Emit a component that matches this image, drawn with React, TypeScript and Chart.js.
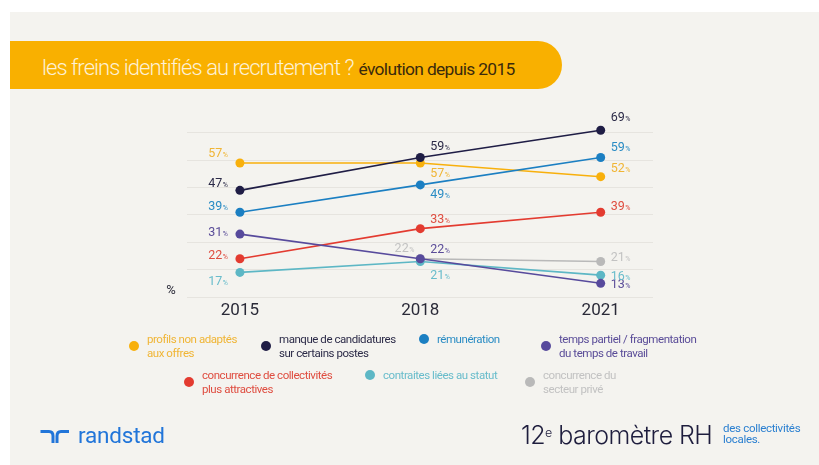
import React, { useEffect, useRef } from "react";
import { Chart, registerables } from "chart.js";

Chart.register(...registerables);

// ---- data ----
const years = [2015, 2018, 2021];
const profilsNonAdaptes = [57, 57, 52];
const manqueCandidatures = [47, 59, 69];
const remuneration = [39, 49, 59];
const tempsPartiel = [31, 22, 13];
const concurrenceCollectivites = [22, 33, 39];
const contraintesStatut = [17, 21, 16];
const concurrencePrive: (number | null)[] = [null, 22, 21];
const gridValues = [8, 18, 28, 38, 48, 58, 68];

const titleMain = "les freins identifiés au recrutement ?";
const titleSub = "évolution depuis 2015";

type Series = {
  key: string;
  legend: string[];
  values: (number | null)[];
  line: string;
  label: string;
  // per point: [dx, dy, align]
  offsets: [number, number, "left" | "right"][];
};

const series: Series[] = [
  { key: "temps", legend: ["temps partiel / fragmentation", "du temps de travail"], values: tempsPartiel, line: "#574a9c", label: "#5a4c98", offsets: [[-12, -3, "right"], [10, -10, "left"], [10, 0, "left"]] },
  { key: "manque", legend: ["manque de candidatures", "sur certains postes"], values: manqueCandidatures, line: "#1f1d45", label: "#2c2b48", offsets: [[-12, -8, "right"], [10, -12, "left"], [10, -14, "left"]] },
  { key: "remu", legend: ["rémunération"], values: remuneration, line: "#1b7fc2", label: "#2a8cc4", offsets: [[-12, -7, "right"], [10, 9, "left"], [10, -11, "left"]] },
  { key: "profils", legend: ["profils non adaptés", "aux offres"], values: profilsNonAdaptes, line: "#f8b00c", label: "#f0b535", offsets: [[-12, -11, "right"], [10, 9, "left"], [10, -9, "left"]] },
  { key: "concColl", legend: ["concurrence de collectivités", "plus attractives"], values: concurrenceCollectivites, line: "#e33b30", label: "#df4d40", offsets: [[-12, -4, "right"], [10, -10, "left"], [10, -7, "left"]] },
  { key: "contraintes", legend: ["contraites liées au statut"], values: contraintesStatut, line: "#5db7c5", label: "#68bccb", offsets: [[-12, 8, "right"], [10, 13, "left"], [10, 0, "left"]] },
  { key: "prive", legend: ["concurrence du", "secteur privé"], values: concurrencePrive, line: "#b9b9b9", label: "#c2c2c2", offsets: [[-12, 0, "right"], [-6, -11, "right"], [10, -5, "left"]] },
];

const legendLayout: { key: string; x: number; y: number }[] = [
  { key: "profils", x: 129, y: 332 },
  { key: "manque", x: 261, y: 332 },
  { key: "remu", x: 419, y: 332 },
  { key: "temps", x: 541, y: 332 },
  { key: "concColl", x: 184, y: 368 },
  { key: "contraintes", x: 365, y: 368 },
  { key: "prive", x: 525, y: 368 },
];

const FONT = "Roboto, 'Noto Sans', sans-serif";

const labelPlugin = {
  id: "valueLabels",
  afterDatasetsDraw(chart: any) {
    const ctx = chart.ctx;
    const xs = chart.scales.x;
    ctx.save();
    series.forEach((s, di) => {
      const meta = chart.getDatasetMeta(di);
      s.values.forEach((v, i) => {
        if (v === null) return;
        const pt = meta.data[i];
        if (!pt) return;
        const [dx, dy, align] = s.offsets[i];
        const num = String(v);
        ctx.font = `400 12.5px ${FONT}`;
        const wNum = ctx.measureText(num).width;
        ctx.font = `400 7px ${FONT}`;
        const wPct = ctx.measureText("%").width;
        const total = wNum + 0.5 + wPct;
        const x0 = align === "left" ? pt.x + dx : pt.x + dx - total;
        const base = pt.y + dy + 4.5;
        ctx.fillStyle = s.label;
        ctx.textAlign = "left";
        ctx.textBaseline = "alphabetic";
        ctx.font = `400 12.5px ${FONT}`;
        ctx.fillText(num, x0, base);
        ctx.font = `400 7px ${FONT}`;
        ctx.fillText("%", x0 + wNum + 0.5, base);
      });
    });
    // year labels
    ctx.fillStyle = "#2a2a38";
    ctx.font = `400 17px ${FONT}`;
    ctx.textAlign = "center";
    ctx.textBaseline = "middle";
    years.forEach((y) => {
      ctx.fillText(String(y), xs.getPixelForValue(y), 311);
    });
    ctx.font = `400 13px ${FONT}`;
    ctx.fillText("%", 171, 291);
    ctx.restore();
  },
};

export default function App() {
  const ref = useRef<HTMLCanvasElement | null>(null);
  useEffect(() => {
    document.body.style.margin = "0";
    if (!ref.current) return;
    const chart = new Chart(ref.current, {
      type: "line",
      data: {
        datasets: series.map((s) => ({
          label: s.legend.join(" "),
          data: years.map((y, i) => ({ x: y, y: s.values[i] })),
          borderColor: s.line,
          backgroundColor: s.line,
          pointBackgroundColor: s.line,
          pointBorderWidth: 0,
          pointRadius: 4.5,
          borderWidth: 1.6,
          tension: 0,
          clip: false as any,
        })),
      },
      options: {
        animation: false,
        responsive: false,
        maintainAspectRatio: false,
        layout: { padding: { left: 187, right: 166, top: 122, bottom: 168 } },
        plugins: { legend: { display: false }, tooltip: { enabled: false }, title: { display: false } },
        scales: {
          x: { type: "linear", min: 2014.12, max: 2021.87, display: false },
          y: {
            type: "linear",
            min: 8,
            max: 72,
            display: true,
            border: { display: false },
            grid: { color: "#e6e4df", drawTicks: false, lineWidth: 1 },
            ticks: { display: false },
            afterBuildTicks: (scale: any) => {
              scale.ticks = gridValues.map((v) => ({ value: v }));
            },
          },
        },
      },
      plugins: [labelPlugin],
    });
    return () => chart.destroy();
  }, []);

  const byKey: Record<string, Series> = {};
  series.forEach((s) => (byKey[s.key] = s));

  return (
    <div style={{ position: "relative", width: 819, height: 465, background: "#ffffff", overflow: "hidden", fontFamily: FONT }}>
      <div style={{ position: "absolute", left: 10, top: 12, right: 0, bottom: 0, background: "#f4f3ef" }} />
      <div style={{ position: "absolute", left: 10, top: 41, width: 552, height: 48, background: "#f9b000", borderRadius: "0 24px 24px 0" }} />
      <div style={{ position: "absolute", left: 42, top: 54, height: 28, lineHeight: "28px", whiteSpace: "nowrap" }}>
        <span style={{ color: "#fdf1d6", fontSize: 22, fontWeight: 300, letterSpacing: -0.95 }}>{titleMain}</span>
        <span style={{ color: "#3b2a0c", fontSize: 17.4, fontWeight: 400, letterSpacing: -0.65, marginLeft: 5 }}>{titleSub}</span>
      </div>
      <canvas ref={ref} width={819} height={465} style={{ position: "absolute", left: 0, top: 0, width: 819, height: 465 }} />
      {legendLayout.map((l) => {
        const s = byKey[l.key];
        return (
          <div key={l.key} style={{ position: "absolute", left: l.x, top: l.y, display: "flex", alignItems: "center", whiteSpace: "nowrap" }}>
            <span style={{ display: "inline-block", width: 10, height: 10, borderRadius: 5, background: s.line, marginRight: 8 }} />
            <div style={{ color: s.label, fontSize: 11.5, lineHeight: "14px", letterSpacing: -0.45 }}>
              {s.legend.map((t, i) => (
                <div key={i}>{t}</div>
              ))}
            </div>
          </div>
        );
      })}
      <svg style={{ position: "absolute", left: 39, top: 430 }} width={32} height={14} viewBox="0 0 32 14">
        <path d="M1.5 1.5 H10 Q14 1.5 14 6 V13" fill="none" stroke="#2175d9" strokeWidth={3} />
        <path d="M18 13 V6 Q18 1.5 22 1.5 H30" fill="none" stroke="#2175d9" strokeWidth={3} />
      </svg>
      <div style={{ position: "absolute", left: 78, top: 422, fontSize: 22.5, color: "#2175d9", lineHeight: "26px", letterSpacing: -0.2 }}>randstad</div>
      <div style={{ position: "absolute", left: 521, top: 420, fontSize: 25, color: "#1e1d3d", lineHeight: "30px", whiteSpace: "nowrap", letterSpacing: -0.55, fontFamily: "Inter, Roboto, sans-serif", fontWeight: 300 }}>
        12<sup style={{ fontSize: 12.5, verticalAlign: "top", position: "relative", top: -2 }}>e</sup> baromètre RH
      </div>
      <div style={{ position: "absolute", left: 723, top: 423, fontSize: 11.5, color: "#2a7fd0", lineHeight: "11px", letterSpacing: -0.3 }}>
        <div>des collectivités</div>
        <div>locales.</div>
      </div>
    </div>
  );
}
